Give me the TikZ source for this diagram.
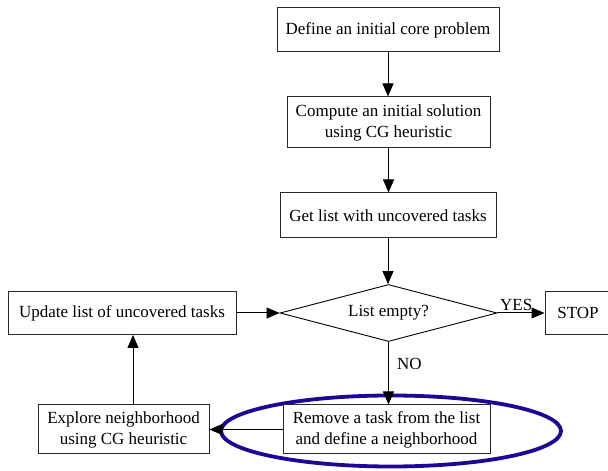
\documentclass[tikz,border=0pt]{standalone}
\usepackage{fontspec}
\setmainfont{Liberation Serif}
\usetikzlibrary{shapes.geometric,arrows.meta}
\definecolor{ringblue}{RGB}{28,8,148}
\definecolor{edgegray}{RGB}{40,40,40}
\tikzset{
  x=1pt, y=1pt,
  stepbox/.style={draw=edgegray, line width=1pt, fill=white, inner sep=0pt,
    align=center, font=\fontsize{17}{21}\selectfont},
  decision/.style={draw=black, line width=0.9pt, shape=diamond, aspect=3.8, inner sep=0pt,
    font=\fontsize{17}{21}\selectfont},
  arr/.style={draw=black, line width=1pt, -{Triangle[length=13pt,width=11pt]}},
  lbl/.style={font=\fontsize{17}{20}\selectfont, inner sep=0pt}
}
\begin{document}
\begin{tikzpicture}
\useasboundingbox (0,0) rectangle (608,471);
\clip (0,0) rectangle (608,471);

% highlight ring around the neighbourhood step
\draw[ringblue, line width=3.8pt] (391,40) ellipse [x radius=170, y radius=35.5];

% process steps
\node[stepbox, minimum width=222, minimum height=44] (core) at (388,441) {Define an initial core problem};
\node[stepbox, minimum width=203, minimum height=51] (init) at (388.5,348.5) {Compute an initial solution\\using CG heuristic};
\node[stepbox, minimum width=216, minimum height=45] (list) at (388,255.5) {Get list with uncovered tasks};
\node[decision, minimum width=217, minimum height=57] (empty) at (388.5,158) {List empty?};
\node[stepbox, minimum width=66, minimum height=43] (stop) at (578,158) {STOP};
\node[stepbox, minimum width=228, minimum height=43] (update) at (122,158) {Update list of uncovered tasks};
\node[stepbox, minimum width=171, minimum height=49] (explore) at (123.5,41.5) {Explore neighborhood\\using CG heuristic};
\node[stepbox, minimum width=207, minimum height=49] (remove) at (386.5,41.5) {Remove a task from the list\\and define a neighborhood};

% connectors
\draw[arr] (core.south) -- (core.south |- init.north);
\draw[arr] (init.south) -- (init.south |- list.north);
\draw[arr] (list.south) -- (list.south |- empty.north);
\draw[arr] (empty.east) -- node[lbl, above, pos=0.4, yshift=2pt] {YES} (stop.west);
\draw[arr] (empty.south) -- node[lbl, right, pos=0.35, xshift=8pt] {NO} (empty.south |- remove.north);
\draw[arr] (remove.west) -- (explore.east);
\draw[arr] ([xshift=9.5pt]explore.north) -- ([xshift=9.5pt]explore.north |- update.south);
\draw[arr] (update.east) -- (empty.west);
\end{tikzpicture}
\end{document}
